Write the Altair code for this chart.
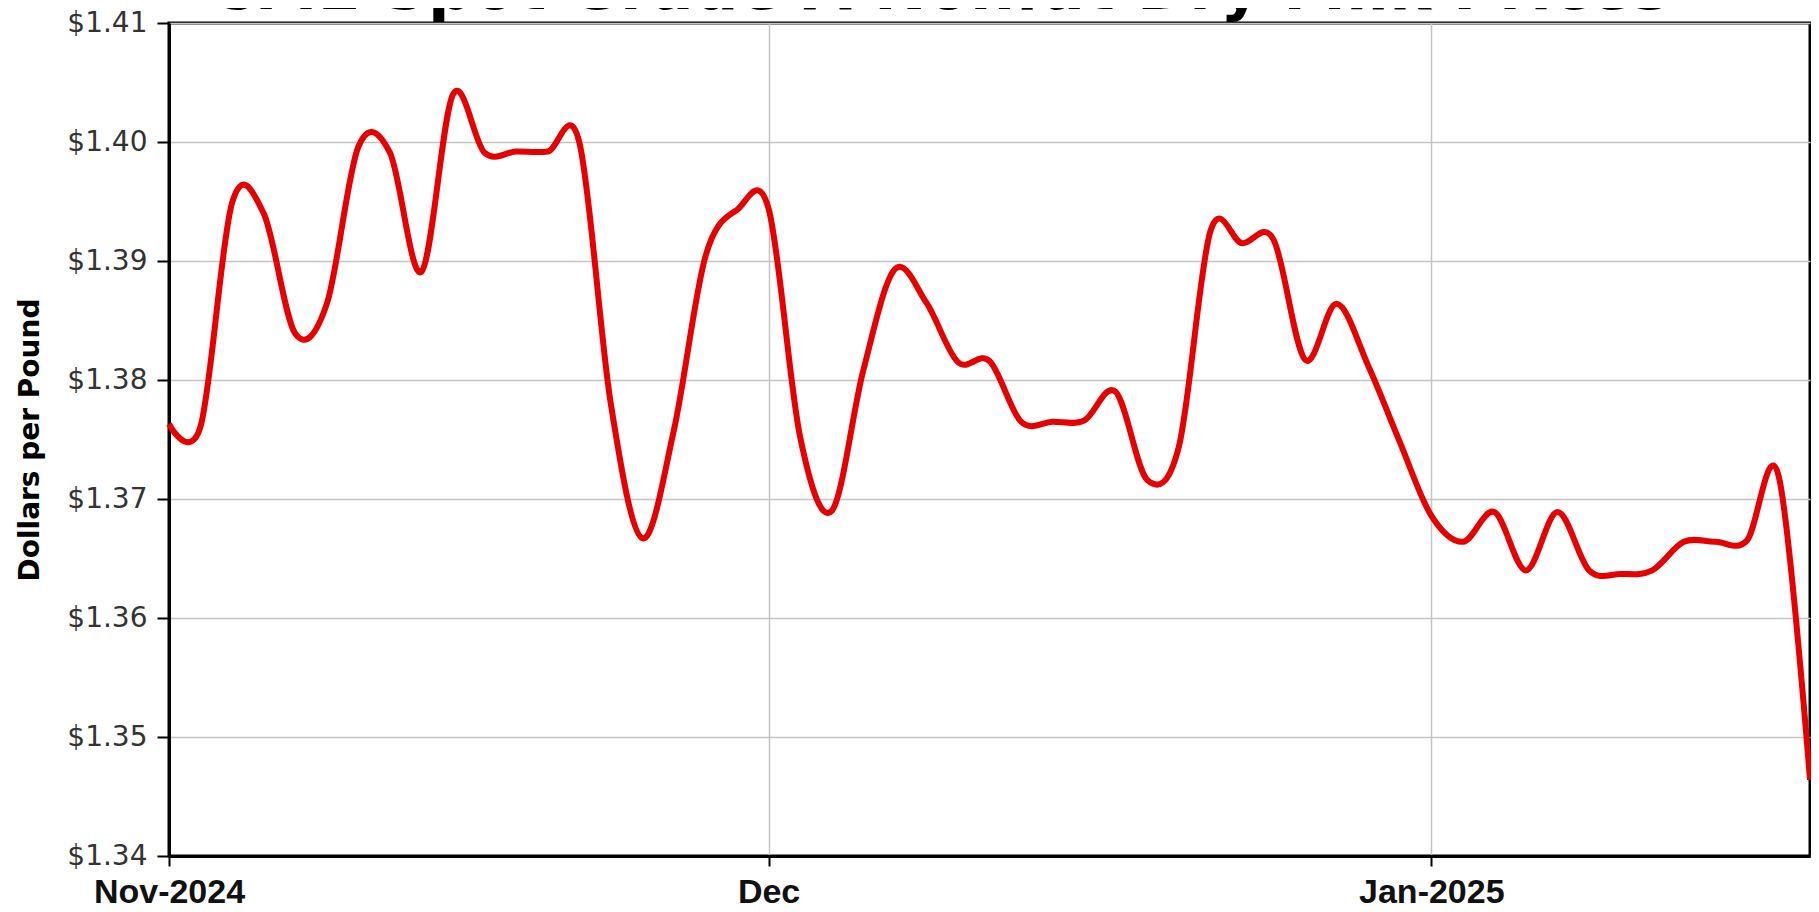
import altair as alt
import pandas as pd

TITLE = "CME Spot Grade A Nonfat Dry Milk Prices"
Y_TITLE = "Dollars per Pound"

# trading days shown on the chart (one point per trading day)
NOV_DAYS = [4, 5, 6, 7, 8, 11, 12, 13, 14, 15, 18, 19, 20, 21, 22, 25, 26, 27, 29]
DEC_DAYS = [2, 3, 4, 5, 6, 9, 10, 11, 12, 13, 16, 17, 18, 19, 20, 23, 24, 26, 27, 30, 31]
JAN_DAYS = [2, 3, 6, 7, 8, 10, 13, 14, 15, 16, 17, 21, 22]

PRICES = [
    1.3763, 1.3761, 1.3949, 1.3940, 1.3839, 1.3864, 1.3996, 1.3991, 1.3891, 1.4040,
    1.3991, 1.3992, 1.3992, 1.4000, 1.3780, 1.3667, 1.3758, 1.3904, 1.3943, 1.3944,
    1.3752, 1.3690, 1.3808, 1.3893, 1.3865, 1.3815, 1.3816, 1.3765, 1.3765, 1.3766,
    1.3790, 1.3716, 1.3744, 1.3925, 1.3915, 1.3918, 1.3817, 1.3864, 1.3812, 1.3748,
    1.3686, 1.3664, 1.3689, 1.3640, 1.3689, 1.3640, 1.3637, 1.3640, 1.3664, 1.3664,
    1.3665, 1.3720, 1.3464,
]

TICK_DATES = ["2024-11-04", "2024-12-02", "2025-01-02"]
TICK_LABELS = ["Nov-2024", "Dec", "Jan-2025"]
Y_TICKS = [1.34, 1.35, 1.36, 1.37, 1.38, 1.39, 1.40, 1.41]

dates = (["2024-11-%02d" % d for d in NOV_DAYS]
         + ["2024-12-%02d" % d for d in DEC_DAYS]
         + ["2025-01-%02d" % d for d in JAN_DAYS])
df = pd.DataFrame({"date": dates, "price": PRICES})

label_expr = " : ".join(
    f"datum.value == '{d}' ? '{l}'" for d, l in zip(TICK_DATES, TICK_LABELS)
) + " : ''"

GRID = "#c4c4c4"

line = alt.Chart(df).mark_line(
    interpolate="cardinal", color="#e60000", strokeWidth=6
).encode(
    x=alt.X(
        "date:O", sort=None,
        scale=alt.Scale(type="point", padding=0),
        axis=alt.Axis(
            values=TICK_DATES, labelExpr=label_expr, title=None, labelAngle=0,
            labelFont="Liberation Sans", labelFontWeight="bold", labelFontSize=34,
            labelColor="#111", labelPadding=9, tickSize=10, tickWidth=2,
            tickColor="#000", grid=True, gridColor=GRID, gridWidth=1.5,
            domainColor="#000", domainWidth=3, labelOverlap=False,
        ),
    ),
    y=alt.Y(
        "price:Q",
        scale=alt.Scale(domain=[1.34, 1.41], nice=False, zero=False),
        axis=alt.Axis(
            values=Y_TICKS, format="$.2f", title=Y_TITLE,
            titleX=-139, titleY=416.5, titleAngle=270, titleAlign="center",
            titleBaseline="middle", titleFont="DejaVu Sans", titleFontSize=28,
            titleFontWeight="bold", titleColor="#000",
            labelFont="DejaVu Sans", labelFontSize=28, labelColor="#333",
            labelPadding=10, tickSize=12, tickWidth=2, tickColor="#000",
            grid=True, gridColor=GRID, gridWidth=1.5,
            domainColor="#000", domainWidth=3, labelOverlap=False,
        ),
    ),
)

title = alt.Chart(pd.DataFrame({"t": [TITLE]})).mark_text(
    font="DejaVu Sans", fontWeight="bold", fontSize=63, align="center",
    baseline="alphabetic", color="#000",
).encode(text="t:N", x=alt.value(770), y=alt.value(-14))

chart = alt.layer(line, title).properties(
    width=1641, height=833,
    padding={"left": 161, "top": 15, "right": 1, "bottom": 48},
    autosize=alt.AutoSizeParams(type="none"),
    background="white",
).configure_view(stroke="#000", strokeWidth=3)

chart.save("out.html", embed_options={"renderer": "svg", "actions": False})
